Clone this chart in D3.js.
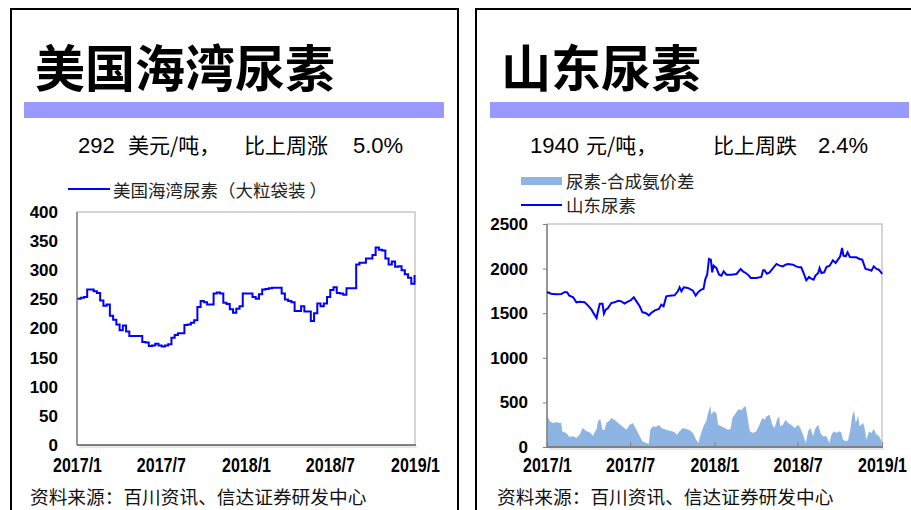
<!DOCTYPE html>
<html>
<head>
<meta charset="utf-8">
<script src="https://cdn.jsdelivr.net/npm/d3@7"></script>
<style>
  body { margin: 0; background: #fff; }
  svg { display: block; font-family: "Liberation Sans", Arial, "Noto Sans CJK SC", sans-serif; }
  .cjk { font-family: "Noto Sans CJK SC", sans-serif; }
</style>
</head>
<body>
<div id="chart"></div>
<script>
// ---- data ----
const xTickDates = ["2017-01-01", "2017-07-01", "2018-01-01", "2018-07-01", "2019-01-01"];
const xTickLabels = ["2017/1", "2017/7", "2018/1", "2018/7", "2019/1"];

// US Gulf granular urea, weekly, first week 2017-01-02 (USD/t)
const usFirstWeek = "2017-01-02";
const usValues = [
  251, 253, 254, 267, 267, 264, 261, 248, 239, 241,
  222, 215, 207, 197, 205, 195, 187, 187, 187, 187,
  177, 176, 170, 171, 174, 171, 169, 171, 173, 184,
  189, 192, 192, 206, 207, 210, 214, 237, 247, 245,
  241, 241, 260, 262, 260, 244, 242, 233, 227, 234,
  238, 260, 260, 260, 254, 251, 259, 267, 268, 269,
  270, 270, 270, 260, 250, 247, 245, 230, 230, 238,
  229, 229, 213, 226, 243, 238, 243, 254, 266, 271,
  261, 260, 258, 269, 269, 269, 310, 313, 313, 320,
  320, 326, 339, 335, 334, 320, 310, 315, 306, 307,
  300, 293, 287, 277, 292
];
const usYTicks = [0, 50, 100, 150, 200, 250, 300, 350, 400];

// Shandong urea (CNY/t), days since 2017-01-01
const cnDays = [
  0, 9, 20, 31, 39, 44, 48, 57, 64, 71, 82, 89, 97, 102, 108, 111, 115, 121, 124, 128,
  133, 140, 147, 155, 162, 169, 175, 182, 189, 195, 202, 208, 215, 222, 227, 235, 244, 249, 254, 260,
  267, 278, 285, 289, 293, 298, 307, 318, 324, 329, 336, 341, 345, 349, 353, 357, 360, 363, 369, 375,
  380, 385, 391, 402, 413, 422, 427, 433, 438, 444, 456, 467, 471, 474, 479, 485, 493, 500, 507, 514,
  520, 525, 536, 543, 549, 554, 559, 565, 571, 576, 581, 585, 591, 594, 598, 604, 609, 616, 623, 629,
  634, 639, 643, 646, 651, 655, 660, 667, 674, 681, 687, 690, 694, 702, 707, 712, 718, 723, 729, 730
];
const cnPrice = [
  1738, 1719, 1712, 1715, 1738, 1734, 1700, 1678, 1622, 1629, 1622, 1588, 1540, 1495, 1446, 1521, 1607, 1607, 1495, 1540,
  1558, 1614, 1622, 1640, 1633, 1607, 1626, 1644, 1678, 1633, 1577, 1510, 1502, 1476, 1502, 1532, 1547, 1596, 1577, 1689,
  1697, 1700, 1745, 1790, 1745, 1790, 1783, 1753, 1697, 1734, 1764, 1771, 1883, 1932, 2108, 2100, 1958, 2033, 2007, 1932,
  1921, 1969, 1932, 1932, 1940, 1996, 1969, 1951, 1932, 1895, 1895, 1906, 1981, 1981, 1943, 1958, 2007, 2052, 2033, 2025,
  2044, 2052, 2044, 2025, 2014, 2014, 1951, 1869, 1906, 1887, 1876, 1921, 1951, 2007, 1951, 1958, 2018, 2033, 2093, 2063,
  2100, 2138, 2231, 2145, 2138, 2182, 2130, 2126, 2126, 2108, 2100, 2055, 1996, 1988, 1977, 2025, 1996, 1988, 1951, 1940
];

// urea - synthetic ammonia spread, days since 2017-01-01
const spreadDays = [
  0, 6, 13, 20, 31, 33, 42, 49, 57, 64, 71, 78, 86, 93, 100, 108, 111, 116, 121, 126,
  129, 137, 140, 147, 155, 166, 173, 180, 187, 195, 202, 208, 216, 222, 225, 231, 238, 244, 249, 260,
  271, 278, 283, 289, 296, 304, 311, 318, 325, 330, 334, 341, 347, 351, 356, 358, 363, 369, 373, 380,
  387, 394, 400, 404, 409, 414, 418, 424, 429, 433, 436, 442, 449, 456, 463, 469, 474, 479, 485, 491,
  496, 501, 506, 508, 514, 520, 525, 532, 540, 547, 552, 558, 564, 569, 574, 580, 585, 591, 596, 601,
  609, 615, 620, 625, 631, 636, 641, 645, 651, 656, 661, 665, 669, 673, 678, 681, 689, 692, 696, 702,
  707, 712, 718, 723, 729, 730
];
const spreadValues = [
  362, 288, 269, 277, 269, 176, 157, 112, 120, 101, 138, 213, 176, 164, 127, 202, 288, 314, 194, 194,
  269, 299, 325, 306, 269, 224, 194, 250, 269, 194, 120, 64, 45, 37, 194, 232, 224, 250, 213, 194,
  176, 164, 138, 176, 213, 202, 187, 157, 82, 45, 127, 232, 288, 381, 463, 362, 400, 381, 250, 232,
  213, 194, 202, 325, 362, 400, 426, 411, 448, 456, 362, 176, 157, 176, 250, 325, 306, 344, 362, 250,
  213, 306, 344, 232, 250, 306, 269, 250, 213, 250, 213, 138, 45, 176, 213, 120, 213, 250, 157, 120,
  120, 45, 138, 176, 157, 176, 164, 82, 64, 75, 194, 344, 411, 269, 351, 232, 269, 213, 82, 176,
  157, 202, 138, 127, 64, 64
];
const cnYTicks = [0, 500, 1000, 1500, 2000, 2500];

// ---- drawing ----
const W = 911, H = 510;
const BLUE = "#0000ff", BAR = "#9999ff", AREA = "#8db4e2";
const parse = d3.timeParse("%Y-%m-%d");
const day0 = parse("2017-01-01");
const tickDates = xTickDates.map(parse);

const svg = d3.select("#chart").append("svg")
  .attr("width", W)
  .attr("height", H);

// panel frames, title bars, titles, subtitles, source
function panelFrame(p) {
  svg.append("rect")
    .attr("x", p.x0).attr("y", 9)
    .attr("width", p.x1 - p.x0).attr("height", H)
    .attr("fill", "none").attr("stroke", "#000").attr("stroke-width", 2);

  svg.append("text")
    .attr("class", "cjk")
    .attr("x", p.titleX).attr("y", 87)
    .attr("font-size", 50).attr("font-weight", 700)
    .text(p.title);

  svg.append("rect")
    .attr("x", p.barX0).attr("y", 102)
    .attr("width", p.barX1 - p.barX0).attr("height", 16)
    .attr("fill", BAR);

  // subtitle pieces: [x, text, isCjk]
  p.sub.forEach(([x, t, cjk]) => {
    svg.append("text")
      .attr("class", cjk ? "cjk" : null)
      .attr("x", x).attr("y", 153)
      .attr("font-size", cjk ? 21 : 22)
      .text(t);
  });

  svg.append("text")
    .attr("class", "cjk")
    .attr("x", p.srcX).attr("y", 504)
    .attr("font-size", 18.7)
    .attr("fill", "#111")
    .text("资料来源：百川资讯、信达证券研发中心");
}

function axes(g, x, y, yTicks, opt) {
  const [xl, xr] = x.range();
  const [yb, yt] = y.range();

  g.append("rect")
    .attr("x", xl).attr("y", yt)
    .attr("width", xr - xl).attr("height", yb - yt)
    .attr("fill", "none").attr("stroke", "#c8c8c8").attr("stroke-width", 1.5);

  const yAxis = g.append("g")
    .attr("transform", `translate(${xl},0)`)
    .call(d3.axisLeft(y).tickValues(yTicks).tickFormat(d3.format("d"))
      .tickSizeInner(opt.yTick).tickSizeOuter(0).tickPadding(19 - opt.yTick));
  yAxis.select(".domain").remove();
  yAxis.selectAll("line").attr("stroke", "#808080");
  yAxis.selectAll("text")
    .attr("font-size", 17).attr("font-weight", 700)
    .attr("font-family", "Liberation Sans, Arial, sans-serif")
    .attr("fill", "#000");

  const xAxis = g.append("g")
    .attr("transform", `translate(0,${yb})`)
    .call(d3.axisBottom(x).tickValues(tickDates)
      .tickFormat((d, i) => xTickLabels[i])
      .tickSizeInner(opt.xTick).tickSizeOuter(0).tickPadding(opt.xPad));
  xAxis.select(".domain").remove();
  xAxis.selectAll("line").attr("stroke", "#808080");
  xAxis.selectAll("text")
    .attr("font-size", 20).attr("font-weight", 700)
    .attr("font-family", "Liberation Sans, Arial, sans-serif")
    .attr("fill", "#000")
    .attr("transform", "scale(0.8,1)");

  // left and bottom axis lines
  g.append("line")
    .attr("x1", xl).attr("x2", xl).attr("y1", yt).attr("y2", yb)
    .attr("stroke", "#808080").attr("stroke-width", 1.5);
  g.append("line")
    .attr("x1", xl).attr("x2", xr + 1).attr("y1", yb).attr("y2", yb)
    .attr("stroke", "#808080").attr("stroke-width", 2);
  g.append("line")
    .attr("x1", xl + 2).attr("x2", xr + 2).attr("y1", yb + 2).attr("y2", yb + 2)
    .attr("stroke", "#d0d0d0").attr("stroke-width", 1);
}

// ---- left panel: US Gulf urea ----
panelFrame({
  x0: 11, x1: 458, titleX: 35, title: "美国海湾尿素",
  barX0: 24, barX1: 444,
  sub: [[78, "292", false], [128, "美元/吨，", true], [244, "比上周涨", true], [353, "5.0%", false]],
  srcX: 30
});

const gL = svg.append("g");
const xL = d3.scaleTime().domain([tickDates[0], tickDates[4]]).range([77, 415]);
const yL = d3.scaleLinear().domain([0, 400]).range([445, 212]);
axes(gL, xL, yL, usYTicks, { yTick: 0, xTick: 0, xPad: 13 });

const week0 = parse(usFirstWeek);
const usData = usValues.map((v, i) => ({ date: d3.timeDay.offset(week0, i * 7), value: v }));
gL.append("path")
  .datum(usData)
  .attr("fill", "none")
  .attr("stroke", BLUE)
  .attr("stroke-width", 2)
  .attr("d", d3.line().curve(d3.curveStepAfter)
    .x(d => xL(d.date)).y(d => yL(d.value)));

gL.append("line")
  .attr("x1", 68).attr("x2", 110).attr("y1", 189).attr("y2", 189)
  .attr("stroke", BLUE).attr("stroke-width", 2);
gL.append("text")
  .attr("class", "cjk")
  .attr("x", 113).attr("y", 197)
  .attr("font-size", 17.5).attr("fill", "#222")
  .text("美国海湾尿素（大粒袋装 ）");

// ---- right panel: Shandong urea ----
panelFrame({
  x0: 476, x1: 920, titleX: 501, title: "山东尿素",
  barX0: 490, barX1: 909,
  sub: [[530, "1940", false], [586, "元/吨，", true], [713, "比上周跌", true], [818, "2.4%", false]],
  srcX: 497
});

const gR = svg.append("g");
const xR = d3.scaleTime().domain([tickDates[0], tickDates[4]]).range([547, 882]);
const yR = d3.scaleLinear().domain([0, 2500]).range([447, 224]);

const spreadData = spreadDays.map((d, i) => ({ date: d3.timeDay.offset(day0, d), value: spreadValues[i] }));
const cnData = cnDays.map((d, i) => ({ date: d3.timeDay.offset(day0, d), value: cnPrice[i] }));

gR.append("path")
  .datum(spreadData)
  .attr("fill", AREA)
  .attr("d", d3.area()
    .x(d => xR(d.date)).y0(yR(0)).y1(d => yR(d.value)));

axes(gR, xR, yR, cnYTicks, { yTick: 4, xTick: -5, xPad: 11 });

gR.append("path")
  .datum(cnData)
  .attr("fill", "none")
  .attr("stroke", BLUE)
  .attr("stroke-width", 2)
  .attr("d", d3.line().x(d => xR(d.date)).y(d => yR(d.value)));

gR.append("rect")
  .attr("x", 521).attr("y", 177).attr("width", 41).attr("height", 8)
  .attr("fill", AREA);
gR.append("text")
  .attr("class", "cjk")
  .attr("x", 566).attr("y", 188)
  .attr("font-size", 17.5).attr("fill", "#222")
  .text("尿素-合成氨价差");
gR.append("line")
  .attr("x1", 521).attr("x2", 562).attr("y1", 205).attr("y2", 205)
  .attr("stroke", BLUE).attr("stroke-width", 2);
gR.append("text")
  .attr("class", "cjk")
  .attr("x", 566).attr("y", 212)
  .attr("font-size", 17.5).attr("fill", "#222")
  .text("山东尿素");
</script>
</body>
</html>
